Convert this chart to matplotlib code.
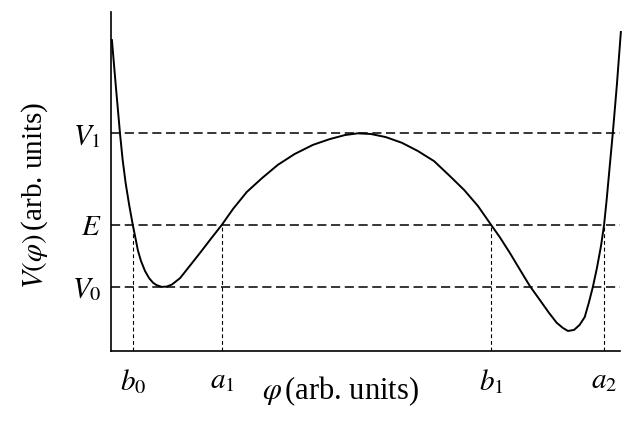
import matplotlib.pyplot as plt

plt.rcParams['font.family'] = ['Liberation Serif', 'DejaVu Serif']
plt.rcParams['mathtext.fontset'] = 'stix'

# potential curve (arb. units)
phi = [0.02, 0.10, 0.18, 0.23, 0.29, 0.36, 0.43, 0.48, 0.53, 0.59,
       0.67, 0.75, 0.83, 0.90, 1.00, 1.10, 1.20, 1.36, 1.55, 1.75,
       1.96, 2.18, 2.40, 2.67, 2.97, 3.28, 3.61, 3.97, 4.30, 4.60,
       4.85, 5.11, 5.40, 5.72, 6.03, 6.35, 6.66, 6.94, 7.21, 7.47,
       7.64, 7.84, 8.04, 8.23, 8.43, 8.61, 8.76, 8.88, 8.98, 9.10,
       9.21, 9.31, 9.39, 9.47, 9.55, 9.63, 9.69, 9.74, 9.80, 9.86,
       9.94, 10.02]
V = [9.17, 7.76, 6.40, 5.65, 4.95, 4.30, 3.72, 3.35, 2.97, 2.66,
     2.36, 2.15, 2.01, 1.94, 1.89, 1.90, 1.96, 2.15, 2.51, 2.89,
     3.30, 3.72, 4.19, 4.69, 5.10, 5.49, 5.81, 6.08, 6.25, 6.37,
     6.42, 6.40, 6.31, 6.14, 5.90, 5.60, 5.16, 4.75, 4.28, 3.72,
     3.36, 2.89, 2.39, 1.92, 1.50, 1.12, 0.83, 0.68, 0.59, 0.62,
     0.77, 1.00, 1.42, 1.89, 2.45, 3.10, 3.72, 4.45, 5.43, 6.40,
     7.82, 9.41]

# energy levels
levels = [6.42, 3.72, 1.89]
level_labels = [r'$V_1$', r'$E$', r'$V_0$']

# turning points at energy E
turn = [0.43, 2.18, 7.47, 9.69]
turn_labels = [r'$b_0$', r'$a_1$', r'$b_1$', r'$a_2$']
E = 3.72

fig = plt.figure(figsize=(6.41, 4.28), dpi=100)
ax = fig.add_axes([0.173, 0.180, 0.794, 0.792])

for lv in levels:
    ax.axhline(lv, color='black', lw=1.1, ls=(0, (6, 3)))
for tp in turn:
    ax.plot([tp, tp], [0, E], color='black', lw=0.8, ls=(0, (3.5, 2.5)))

ax.plot(phi, V, color='black', lw=1.4, clip_on=False)

ax.set_xlim(0, 10)
ax.set_ylim(0, 10)
ax.spines['top'].set_visible(False)
ax.spines['right'].set_visible(False)
ax.spines['left'].set_linewidth(1.2)
ax.spines['bottom'].set_linewidth(1.2)

ax.set_yticks(levels)
ax.set_yticklabels(level_labels, fontsize=21)
ax.set_xticks(turn)
ax.set_xticklabels(turn_labels, fontsize=21)
ax.tick_params(length=0)
ax.tick_params(axis='y', pad=7)
ax.tick_params(axis='x', pad=12)

ax.text(-0.149, 0.46, r'$V(\varphi)\,$(arb. units)', transform=ax.transAxes,
        rotation=90, ha='center', va='center', fontsize=21)
ax.text(0.452, -0.07, r'$\varphi\,$(arb. units)', transform=ax.transAxes,
        ha='center', va='top', fontsize=22)

fig.savefig('out.png', dpi=100)
